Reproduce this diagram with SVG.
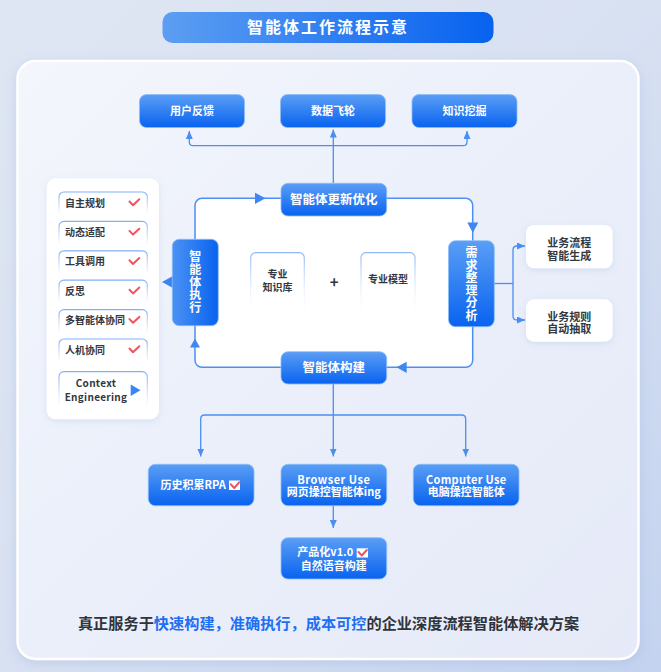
<svg xmlns="http://www.w3.org/2000/svg" width="661" height="672" viewBox="0 0 661 672">
<defs>
<linearGradient id="bg" x1="0" y1="0" x2="1" y2="1"><stop offset="0" stop-color="#dfe6f3"/><stop offset="0.5" stop-color="#d8e1f2"/><stop offset="1" stop-color="#c4d3ef"/></linearGradient>
<linearGradient id="panel" x1="0" y1="0" x2="1" y2="1"><stop offset="0" stop-color="#f4f6fc"/><stop offset="0.5" stop-color="#eaeffa"/><stop offset="1" stop-color="#e6eaf8"/></linearGradient>
<linearGradient id="pill" x1="0" y1="0" x2="1" y2="0"><stop offset="0" stop-color="#5c9ef2"/><stop offset="1" stop-color="#0762ef"/></linearGradient>
<linearGradient id="blue" x1="0" y1="0" x2="0" y2="1"><stop offset="0" stop-color="#5a9ef5"/><stop offset="1" stop-color="#0963f0"/></linearGradient>
<linearGradient id="blueh" x1="0" y1="0" x2="1" y2="0"><stop offset="0" stop-color="#4a92f3"/><stop offset="1" stop-color="#0963f0"/></linearGradient>
<linearGradient id="itemStroke" x1="0" y1="0" x2="0" y2="1"><stop offset="0" stop-color="#7fb0f7"/><stop offset="1" stop-color="#ffffff" stop-opacity="0.6"/></linearGradient>
<linearGradient id="cardStroke" x1="0" y1="0" x2="0" y2="1"><stop offset="0" stop-color="#8db8f5"/><stop offset="1" stop-color="#ffffff" stop-opacity="0"/></linearGradient>
<filter id="sh" x="-20%" y="-20%" width="140%" height="150%"><feDropShadow dx="0" dy="2" stdDeviation="3" flood-color="#6f8fd0" flood-opacity="0.18"/></filter>
<filter id="shp" x="-10%" y="-10%" width="120%" height="120%"><feDropShadow dx="0" dy="3" stdDeviation="6" flood-color="#7d97cf" flood-opacity="0.25"/></filter>
<marker id="ah" viewBox="0 0 8 7" markerWidth="8" markerHeight="7" refX="8" refY="3.5" orient="auto-start-reverse" markerUnits="userSpaceOnUse"><path d="M0,0 L8,3.5 L0,7 z" fill="#4a8ef2"/></marker>
<style>
text{font-family:'Noto Sans CJK SC','Noto Sans',sans-serif;}
.bt{fill:#ffffff;font-weight:700;text-anchor:middle;}
.vt{fill:#ffffff;font-weight:700;text-anchor:middle;writing-mode:vertical-rl;}
.dk{fill:#333740;font-weight:700;}
.bx{fill:url(#blue);stroke:#8cbcf8;stroke-width:0.8;}
.item{fill:#ffffff;stroke:url(#itemStroke);stroke-width:1.2;}
.card{fill:#ffffff;stroke:url(#cardStroke);stroke-width:1.2;}
.chk{fill:none;stroke:#f2525d;stroke-width:2;stroke-linecap:round;stroke-linejoin:round;}
.ln{fill:none;stroke:#4a8ef2;stroke-width:1.3;}
.tri{fill:#3f86f3;}
</style>
</defs>
<rect width="661" height="672" fill="url(#bg)"/>
<g id="title">
<rect x="162.5" y="12" width="331" height="31" rx="10" fill="url(#pill)"/>
<text x="328" y="33" class="bt" font-size="16" letter-spacing="2">智能体工作流程示意</text>
</g>
<g id="panel">
<rect x="17.5" y="61" width="621" height="598" rx="18" fill="url(#panel)" stroke="#ffffff" stroke-width="2.5" filter="url(#shp)"/>
</g>
<g id="loop">
<rect x="195" y="198.3" width="277.7" height="169" rx="7" fill="#ffffff" stroke="#4d8ff2" stroke-width="1.5"/>
<polygon class="tri" points="255,192.7 265.5,198.3 255,204"/>
<polygon class="tri" points="467.3,222.5 478.3,222.5 472.8,232.7"/>
<polygon class="tri" points="190,347.5 200,347.5 195,338.5"/>
<polygon class="tri" points="406.7,361.7 406.7,373 396.5,367.3"/>
</g>
<g id="connectors">
<path class="ln" d="M333.3,183 V129.5" marker-end="url(#ah)"/>
<path class="ln" d="M189.3,131 V141.7 Q189.3,145.7 193.3,145.7 H463 Q467,145.7 467,141.7 V131" marker-start="url(#ah)" marker-end="url(#ah)"/>
<path class="ln" d="M494.3,283.5 H513"/>
<path class="ln" d="M525,246 H517 Q513,246 513,250 V316 Q513,320 517,320 H525" marker-start="url(#ah)" marker-end="url(#ah)"/>
<path class="ln" d="M333.3,384 V456.5" marker-end="url(#ah)"/>
<path class="ln" d="M200.7,456.5 V419 Q200.7,415 204.7,415 H461.7 Q465.7,415 465.7,419 V456.5" marker-start="url(#ah)" marker-end="url(#ah)"/>
<path class="ln" d="M333.3,506 V528" marker-end="url(#ah)"/>
</g>
<g id="n-feedback"><rect class="bx" x="139.5" y="94.5" width="105" height="33" rx="7"/><text x="192" y="115" class="bt" font-size="11">用户反馈</text></g>
<g id="n-flywheel"><rect class="bx" x="280.5" y="94.5" width="105" height="33" rx="7"/><text x="333" y="115" class="bt" font-size="11">数据飞轮</text></g>
<g id="n-mining"><rect class="bx" x="412" y="94.5" width="105" height="33" rx="7"/><text x="464.5" y="115" class="bt" font-size="11">知识挖掘</text></g>
<g id="n-update"><rect class="bx" x="281" y="183.3" width="105.7" height="32.7" rx="7"/><text x="333.8" y="204" class="bt" font-size="12.5">智能体更新优化</text></g>
<g id="n-build"><rect class="bx" x="281" y="351.7" width="105.7" height="32.3" rx="7"/><text x="333.8" y="372.3" class="bt" font-size="12.5">智能体构建</text></g>
<g id="n-exec">
<polygon fill="#3b82f3" points="173,276 173,288 162,282"/>
<rect x="172.3" y="239.3" width="46" height="86.4" rx="7" fill="url(#blueh)" stroke="#8cbcf8" stroke-width="0.8"/>
<text x="195.3" y="282.5" class="vt" font-size="12" letter-spacing="0.8">智能体执行</text>
</g>
<g id="n-analysis">
<rect x="448.5" y="240.7" width="45.8" height="86" rx="7" fill="url(#blue)" stroke="#8cbcf8" stroke-width="0.8"/>
<text x="471.5" y="284" class="vt" font-size="12" letter-spacing="0.5">需求整理分析</text>
</g>
<g id="n-kb"><rect class="card" x="250.7" y="252.7" width="53.6" height="66" rx="5"/><text class="dk" font-size="10" text-anchor="middle"><tspan x="277.5" y="277.5">专业</tspan><tspan x="277.5" y="291">知识库</tspan></text></g>
<g id="n-plus"><text x="334.3" y="288" class="dk" font-size="15" text-anchor="middle">+</text></g>
<g id="n-model"><rect class="card" x="361" y="252.7" width="54" height="66" rx="5"/><text x="388" y="282.5" class="dk" font-size="10" text-anchor="middle">专业模型</text></g>
<g id="n-flow"><rect x="526" y="225" width="86.7" height="43.3" rx="8" fill="#ffffff" filter="url(#sh)"/><text class="dk" font-size="11" text-anchor="middle"><tspan x="569.3" y="247">业务流程</tspan><tspan x="569.3" y="259.5">智能生成</tspan></text></g>
<g id="n-rules"><rect x="526" y="299.3" width="86.7" height="42.4" rx="8" fill="#ffffff" filter="url(#sh)"/><text class="dk" font-size="11" text-anchor="middle"><tspan x="569.3" y="320.5">业务规则</tspan><tspan x="569.3" y="333">自动抽取</tspan></text></g>
<g id="n-list">
<rect x="46.7" y="178.3" width="112.3" height="241" rx="9" fill="#ffffff" filter="url(#sh)"/>
<g><rect class="item" x="59" y="192" width="88.3" height="24" rx="5"/><text x="65" y="206.5" class="dk" font-size="10" font-weight="500">自主规划</text><path class="chk" d="M129.5,201.5 L133,205.2 L139.3,199.3"/></g>
<g><rect class="item" x="59" y="221.4" width="88.3" height="24" rx="5"/><text x="65" y="235.9" class="dk" font-size="10" font-weight="500">动态适配</text><path class="chk" d="M129.5,230.9 L133,234.6 L139.3,228.7"/></g>
<g><rect class="item" x="59" y="250.8" width="88.3" height="24" rx="5"/><text x="65" y="265.3" class="dk" font-size="10" font-weight="500">工具调用</text><path class="chk" d="M129.5,260.3 L133,264 L139.3,258.1"/></g>
<g><rect class="item" x="59" y="280.2" width="88.3" height="24" rx="5"/><text x="65" y="294.7" class="dk" font-size="10" font-weight="500">反思</text><path class="chk" d="M129.5,289.7 L133,293.4 L139.3,287.5"/></g>
<g><rect class="item" x="59" y="309.6" width="88.3" height="24" rx="5"/><text x="65" y="324.1" class="dk" font-size="10" font-weight="500">多智能体协同</text><path class="chk" d="M129.5,319.1 L133,322.8 L139.3,316.9"/></g>
<g><rect class="item" x="59" y="339" width="88.3" height="24" rx="5"/><text x="65" y="353.5" class="dk" font-size="10" font-weight="500">人机协同</text><path class="chk" d="M129.5,348.5 L133,352.2 L139.3,346.3"/></g>
<g><rect class="item" x="59" y="371.7" width="88.3" height="35" rx="5"/><text class="dk" font-size="10" font-weight="500" text-anchor="middle" letter-spacing="0.3"><tspan x="96" y="386.5">Context</tspan><tspan x="96" y="400.5">Engineering</tspan></text><polygon fill="#3a84f4" points="130.7,384.5 140.5,390.3 130.7,396"/></g>
</g>
<g id="n-rpa"><rect class="bx" x="148.3" y="464.3" width="105.7" height="41.4" rx="7"/><text x="160.5" y="489" fill="#ffffff" font-weight="700" font-size="11">历史积累RPA</text><rect x="229" y="480.5" width="11" height="9.5" fill="#ffffff"/><path class="chk" stroke-width="1.8" d="M230.8,484.3 L234.2,488 L239.2,482.3"/></g>
<g id="n-browser"><rect class="bx" x="281" y="464.3" width="105.7" height="41.4" rx="7"/><text class="bt" font-size="11"><tspan x="333.8" y="483.5" letter-spacing="0.5">Browser Use</tspan><tspan x="333.8" y="496">网页操控智能体ing</tspan></text></g>
<g id="n-computer"><rect class="bx" x="413.3" y="464.3" width="105.7" height="41.4" rx="7"/><text class="bt" font-size="11"><tspan x="466.2" y="483.5" letter-spacing="0.3">Computer Use</tspan><tspan x="466.2" y="496">电脑操控智能体</tspan></text></g>
<g id="n-product"><rect class="bx" x="281" y="537.7" width="105.7" height="41.3" rx="7"/><text x="297.3" y="556.3" fill="#ffffff" font-weight="700" font-size="11">产品化v1.0</text><rect x="356.7" y="548.3" width="11.3" height="9.2" fill="#ffffff"/><path class="chk" stroke-width="1.8" d="M358.5,552 L361.8,555.5 L366.8,550"/><text x="333.8" y="569.5" class="bt" font-size="11">自然语音构建</text></g>
<g id="tagline"><text x="328.5" y="628.5" font-size="15.2" font-weight="700" text-anchor="middle" fill="#2f333b">真正服务于<tspan fill="#1f6ff2">快速构建，准确执行，成本可控</tspan>的企业深度流程智能体解决方案</text></g>
</svg>
